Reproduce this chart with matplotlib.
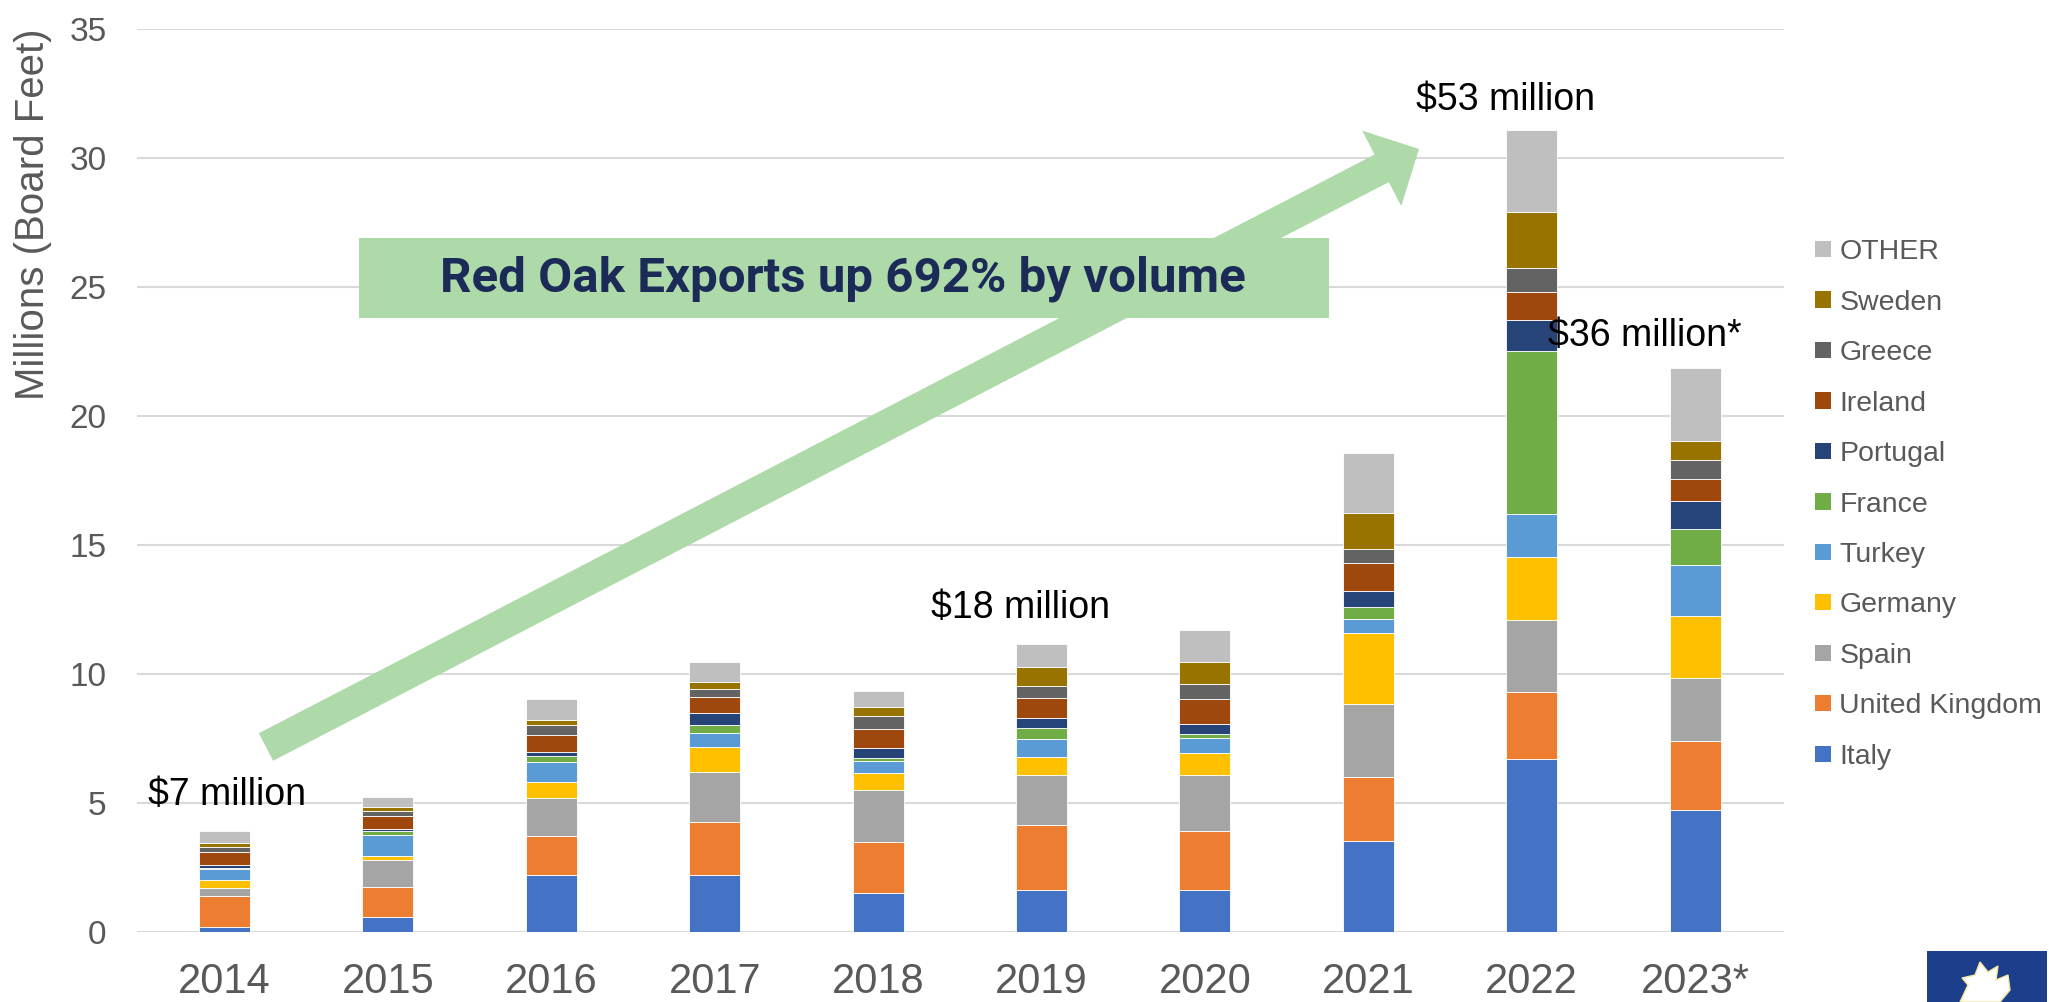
import matplotlib
matplotlib.use("Agg")
import matplotlib.pyplot as plt
from matplotlib.patches import Patch, Polygon, Rectangle
import numpy as np

# ---------------- data ----------------
years = ['2014', '2015', '2016', '2017', '2018', '2019', '2020', '2021', '2022', '2023*']
countries = ['Italy', 'United Kingdom', 'Spain', 'Germany', 'Turkey', 'France',
             'Portugal', 'Ireland', 'Greece', 'Sweden', 'OTHER']

italy    = [0.20, 0.58, 2.20, 2.21, 1.51, 1.61, 1.61, 3.51, 6.71, 4.70]
uk       = [1.20, 1.16, 1.52, 2.05, 1.98, 2.53, 2.29, 2.47, 2.60, 2.70]
spain    = [0.30, 1.03, 1.45, 1.93, 2.02, 1.94, 2.18, 2.86, 2.77, 2.45]
germany  = [0.31, 0.16, 0.65, 0.96, 0.66, 0.68, 0.84, 2.74, 2.43, 2.37]
turkey   = [0.41, 0.81, 0.75, 0.54, 0.44, 0.70, 0.57, 0.53, 1.68, 1.99]
france   = [0.05, 0.16, 0.25, 0.31, 0.14, 0.43, 0.16, 0.48, 6.31, 1.40]
portugal = [0.13, 0.07, 0.13, 0.47, 0.36, 0.39, 0.41, 0.63, 1.19, 1.07]
ireland  = [0.47, 0.53, 0.66, 0.61, 0.74, 0.78, 0.97, 1.07, 1.09, 0.86]
greece   = [0.23, 0.19, 0.41, 0.32, 0.50, 0.48, 0.56, 0.56, 0.94, 0.75]
sweden   = [0.13, 0.13, 0.19, 0.26, 0.34, 0.72, 0.88, 1.36, 2.16, 0.73]
other    = [0.48, 0.41, 0.80, 0.80, 0.63, 0.89, 1.23, 2.36, 3.19, 2.83]

series = [italy, uk, spain, germany, turkey, france, portugal, ireland, greece, sweden, other]

colors = ['#4472C4', '#ED7D31', '#A5A5A5', '#FFC000', '#5B9BD5', '#70AD47',
          '#264478', '#9E480E', '#636363', '#997300', '#BFBFBF']

yticks = [0, 5, 10, 15, 20, 25, 30, 35]
y_label = 'Millions (Board Feet)'
headline = 'Red Oak Exports up 692% by volume'
value_notes = ['$7 million', '$18 million', '$53 million', '$36 million*']
note_pos = [(-0.47, 5.30, 'left'), (4.87, 12.55, 'center'), (7.84, 32.24, 'center'), (8.69, 23.09, 'center')]

# ---------------- figure ----------------
W, H = 2049, 1002
fig = plt.figure(figsize=(W / 100, H / 100), dpi=100)
fig.patch.set_facecolor('white')

ax_left, ax_right = 137.0, 1784.0
ax = fig.add_axes([ax_left / W, 1 - 931.7 / H, (ax_right - ax_left) / W, (931.7 - 28.7) / H])
x = np.arange(len(years))
bottom = np.zeros(len(years))
handles = []
for name, vals, c in zip(countries, series, colors):
    ax.bar(x, vals, width=0.312, bottom=bottom, color=c, edgecolor='white',
           linewidth=0.6, zorder=3)
    bottom += np.array(vals)
    handles.append(Patch(facecolor=c, edgecolor='none', label=name))

ax.set_xlim((ax_left - 224.5) / 163.4, (ax_right - 224.5) / 163.4)
ax.set_ylim(0, 35)
ax.set_yticks(yticks)
ax.set_xticks(x)
ax.set_xticklabels(years)
for s in ax.spines.values():
    s.set_visible(False)
ax.grid(axis='y', color='#d9d9d9', linewidth=1.5, zorder=0)
ax.set_axisbelow(True)
ax.tick_params(axis='both', length=0)
ax.tick_params(axis='x', pad=22, labelsize=30, labelcolor='#595959')
ax.tick_params(axis='y', pad=22, labelsize=24, labelcolor='#595959')
for lab in ax.get_xticklabels() + ax.get_yticklabels():
    lab.set_family(['Liberation Sans', 'DejaVu Sans'])

# y label (top aligned)
fig.text(33 / W, 1 - 29 / H, y_label, rotation=90, ha='center', va='top',
         fontsize=29, color='#595959',
         family=['Liberation Sans Narrow', 'Liberation Sans', 'DejaVu Sans'])

# green arrow (built in pixel space, converted to figure fraction)
green = '#ADDAA8'
T = np.array([266.0, 747.0])
P = np.array([1419.0, 149.0])
u = (P - T) / np.linalg.norm(P - T)
n = np.array([-u[1], u[0]])
w, hw, hl = 15.5, 42.5, 42.0
B = P - u * hl
pts = [T + n * w, B + n * w, B + n * hw, P, B - n * hw, B - n * w, T - n * w]
pts = [(p[0] / W, 1 - p[1] / H) for p in pts]
fig.patches.append(Polygon(pts, closed=True, facecolor=green, edgecolor='none',
                           transform=fig.transFigure, zorder=5))

# green headline box
fig.patches.append(Rectangle((359 / W, 1 - 318 / H), (1329 - 359) / W, 80 / H,
                             facecolor=green, edgecolor='none',
                             transform=fig.transFigure, zorder=6))
fig.text(843 / W, 1 - 279 / H, headline, ha='center', va='center', fontsize=35.5,
         fontweight='bold', color='#1B2A57', zorder=7,
         family=['Roboto', 'Liberation Sans', 'DejaVu Sans'])

# value annotations
for txt, (xi, yv, ha) in zip(value_notes, note_pos):
    ax.text(xi, yv, txt, ha=ha, va='center', fontsize=27, color='black', zorder=8,
            family=['Liberation Sans', 'DejaVu Sans'])

# legend
leg = fig.legend(handles[::-1], [h.get_label() for h in handles[::-1]],
                 loc='center left', bbox_to_anchor=(1815 / W, 1 - 504.5 / H),
                 frameon=False, handlelength=0.56, handleheight=0.5,
                 handletextpad=0.3, labelspacing=0.86, borderpad=0, borderaxespad=0,
                 prop={'family': ['Liberation Sans', 'DejaVu Sans'], 'size': 20.5})
for t in leg.get_texts():
    t.set_color('#595959')

# logo in bottom-right corner
fig.patches.append(Rectangle((1927 / W, 0), (2047 - 1927) / W, (1002 - 951) / H,
                             facecolor='#1C3F8C', edgecolor='none',
                             transform=fig.transFigure, zorder=9))
leaf = [(1960, 1002), (1968, 985), (1962, 978), (1975, 975), (1980, 962), (1988, 972),
        (1998, 966), (1996, 980), (2008, 975), (2010, 990), (2000, 1002)]
fig.patches.append(Polygon([(a / W, 1 - b / H) for a, b in leaf], closed=True,
                           facecolor='white', edgecolor='#F5E6A0', linewidth=1,
                           transform=fig.transFigure, zorder=10))

fig.savefig('out.png', dpi=100, facecolor='white')
